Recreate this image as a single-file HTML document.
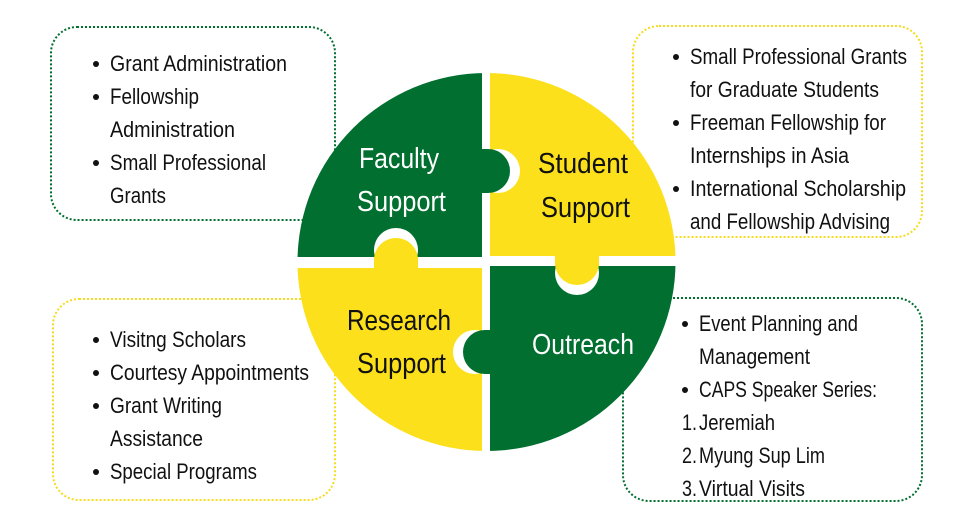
<!DOCTYPE html>
<html><head><meta charset="utf-8"><style>
html,body{margin:0;padding:0;background:#fff;width:978px;height:530px;overflow:hidden}
svg{display:block}
text{font-family:"Liberation Sans Narrow","Liberation Sans",sans-serif}
.t{font-size:22px;fill:#111}
.l{font-size:29px}
</style></head><body>
<svg width="978" height="530" viewBox="0 0 978 530" xmlns="http://www.w3.org/2000/svg">
<defs>
<clipPath id="c"><circle cx="486.5" cy="262" r="189"/></clipPath>
</defs>
<g fill="none" stroke-width="2" stroke-dasharray="2 2">
<rect x="51" y="27" width="284" height="193" rx="26" stroke="#006F2F"/>
<rect x="633" y="26" width="289" height="211" rx="26" stroke="#F5DC1C"/>
<rect x="53" y="299" width="282" height="201" rx="26" stroke="#F5DC1C"/>
<rect x="623" y="298" width="299" height="203" rx="26" stroke="#006F2F"/>
</g>
<g clip-path="url(#c)">
<rect x="290" y="60" width="192" height="197" fill="#006F2F"/>
<rect x="490" y="60" width="200" height="196" fill="#FBE01B"/>
<rect x="290" y="268" width="192" height="200" fill="#FBE01B"/>
<rect x="490" y="266" width="200" height="200" fill="#006F2F"/>
</g>
<circle cx="498" cy="171" r="22" fill="#fff"/>
<circle cx="488" cy="171" r="22" fill="#006F2F"/>
<rect x="482" y="149" width="6" height="44" fill="#006F2F"/>
<circle cx="396" cy="250" r="22" fill="#fff"/>
<circle cx="396" cy="260" r="22" fill="#FBE01B"/>
<rect x="374" y="257" width="44" height="11" fill="#FBE01B"/>
<circle cx="577" cy="273" r="22" fill="#fff"/>
<circle cx="577" cy="263" r="22" fill="#FBE01B"/>
<rect x="555" y="256" width="44" height="10" fill="#FBE01B"/>
<circle cx="475" cy="352" r="22" fill="#fff"/>
<circle cx="485" cy="352" r="22" fill="#006F2F"/>
<rect x="485" y="330" width="8" height="44" fill="#006F2F"/>

<text class="l" x="359" y="168" fill="#fff" textLength="80" lengthAdjust="spacingAndGlyphs">Faculty</text>
<text class="l" x="357" y="211" fill="#fff" textLength="89" lengthAdjust="spacingAndGlyphs">Support</text>
<text class="l" x="538" y="173" fill="#111" textLength="90" lengthAdjust="spacingAndGlyphs">Student</text>
<text class="l" x="541" y="217" fill="#111" textLength="89" lengthAdjust="spacingAndGlyphs">Support</text>
<text class="l" x="347" y="330" fill="#111" textLength="104" lengthAdjust="spacingAndGlyphs">Research</text>
<text class="l" x="357" y="373" fill="#111" textLength="89" lengthAdjust="spacingAndGlyphs">Support</text>
<text class="l" x="532" y="354" fill="#fff" textLength="102" lengthAdjust="spacingAndGlyphs">Outreach</text>

<g fill="#111">
<circle cx="96" cy="64" r="3"/><circle cx="96" cy="97" r="3"/><circle cx="96" cy="163" r="3"/>
<circle cx="676" cy="57" r="3"/><circle cx="676" cy="123" r="3"/><circle cx="676" cy="189" r="3"/>
<circle cx="96" cy="340" r="3"/><circle cx="96" cy="373" r="3"/><circle cx="96" cy="406" r="3"/><circle cx="96" cy="472" r="3"/>
<circle cx="685" cy="324" r="3"/><circle cx="685" cy="390" r="3"/>
</g>
<g class="t">
<text class="t" x="110" y="71" textLength="177" lengthAdjust="spacingAndGlyphs">Grant Administration</text>
<text class="t" x="110" y="104" textLength="89" lengthAdjust="spacingAndGlyphs">Fellowship</text>
<text class="t" x="110" y="137" textLength="125" lengthAdjust="spacingAndGlyphs">Administration</text>
<text class="t" x="110" y="170" textLength="156" lengthAdjust="spacingAndGlyphs">Small Professional</text>
<text class="t" x="110" y="203" textLength="56" lengthAdjust="spacingAndGlyphs">Grants</text>

<text class="t" x="690" y="64" textLength="217" lengthAdjust="spacingAndGlyphs">Small Professional Grants</text>
<text class="t" x="690" y="97" textLength="189" lengthAdjust="spacingAndGlyphs">for Graduate Students</text>
<text class="t" x="690" y="130" textLength="196" lengthAdjust="spacingAndGlyphs">Freeman Fellowship for</text>
<text class="t" x="690" y="163" textLength="159" lengthAdjust="spacingAndGlyphs">Internships in Asia</text>
<text class="t" x="690" y="196" textLength="216" lengthAdjust="spacingAndGlyphs">International Scholarship</text>
<text class="t" x="690" y="229" textLength="200" lengthAdjust="spacingAndGlyphs">and Fellowship Advising</text>

<text class="t" x="110" y="347" textLength="136" lengthAdjust="spacingAndGlyphs">Visitng Scholars</text>
<text class="t" x="110" y="380" textLength="199" lengthAdjust="spacingAndGlyphs">Courtesy Appointments</text>
<text class="t" x="110" y="413" textLength="112" lengthAdjust="spacingAndGlyphs">Grant Writing</text>
<text class="t" x="110" y="446" textLength="93" lengthAdjust="spacingAndGlyphs">Assistance</text>
<text class="t" x="110" y="479" textLength="147" lengthAdjust="spacingAndGlyphs">Special Programs</text>

<text class="t" x="699" y="331" textLength="159" lengthAdjust="spacingAndGlyphs">Event Planning and</text>
<text class="t" x="699" y="364" textLength="111" lengthAdjust="spacingAndGlyphs">Management</text>
<text class="t" x="699" y="397" textLength="178" lengthAdjust="spacingAndGlyphs">CAPS Speaker Series:</text>
<text class="t" x="682" y="430" textLength="15" lengthAdjust="spacingAndGlyphs">1.</text>
<text class="t" x="699" y="430" textLength="76" lengthAdjust="spacingAndGlyphs">Jeremiah</text>
<text class="t" x="682" y="463" textLength="15" lengthAdjust="spacingAndGlyphs">2.</text>
<text class="t" x="699" y="463" textLength="126" lengthAdjust="spacingAndGlyphs">Myung Sup Lim</text>
<text class="t" x="682" y="496" textLength="15" lengthAdjust="spacingAndGlyphs">3.</text>
<text class="t" x="699" y="496" textLength="106" lengthAdjust="spacingAndGlyphs">Virtual Visits</text>
</g>
</svg>
</body></html>
